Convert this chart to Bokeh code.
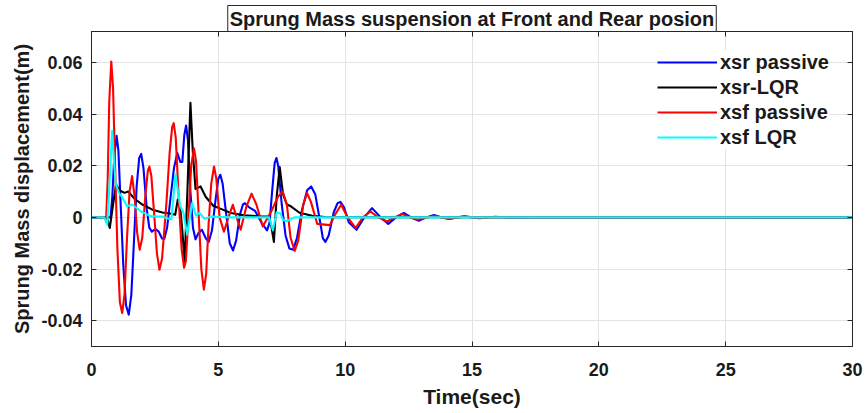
from bokeh.plotting import figure
from bokeh.models import Range1d, FixedTicker, LinearAxis, Legend, LegendItem
from bokeh.embed import file_html
from bokeh.resources import INLINE

# ---- data ----
t_xsr_passive = [0, 0.75, 0.82, 0.9, 0.99, 1.06, 1.15, 1.25, 1.36, 1.47, 1.57, 1.68, 1.78, 1.88, 1.96,
                 2.05, 2.18, 2.28, 2.38, 2.52, 2.65, 2.78, 2.87, 2.98, 3.12, 3.25, 3.38, 3.5, 3.58, 3.66,
                 3.73, 3.8, 3.9, 4.0, 4.1, 4.22, 4.35, 4.5, 4.62, 4.75, 4.88, 5.0, 5.08, 5.17, 5.3, 5.45,
                 5.58, 5.7, 5.85, 5.97, 6.05, 6.2, 6.45, 6.7, 6.92, 7.02, 7.12, 7.22, 7.29, 7.36, 7.5,
                 7.65, 7.8, 7.95, 8.1, 8.3, 8.5, 8.66, 8.82, 9.0, 9.12, 9.22, 9.35, 9.55, 9.7, 9.81,
                 9.95, 10.15, 10.45, 10.75, 11.06, 11.4, 11.7, 12.0, 12.31, 12.6, 12.9, 13.2, 13.5,
                 13.8, 14.1, 14.4, 14.7, 15.0, 15.3, 15.9, 16.5, 17.5, 30]
v_xsr_passive = [0, 0, 0.008, 0.024, 0.0316, 0.026, 0.005, -0.018, -0.034, -0.0377, -0.03, -0.008, 0.012,
                 0.023, 0.0246, 0.019, 0.003, -0.004, -0.0055, -0.0045, -0.0055, -0.0082, -0.0083,
                 -0.004, 0.008, 0.019, 0.025, 0.0215, 0.0215, 0.032, 0.0356, 0.03, 0.01, -0.004,
                 -0.0085, -0.006, -0.0048, -0.008, -0.0095, -0.005, 0.006, 0.015, 0.0165, 0.013, 0.002,
                 -0.01, -0.0128, -0.009, 0.001, 0.005, 0.0055, 0.004, 0.0025, -0.002, -0.005, -0.002,
                 0.01, 0.021, 0.023, 0.02, 0.005, -0.007, -0.012, -0.0125, -0.008, 0.003, 0.0105, 0.012,
                 0.009, -0.001, -0.008, -0.0095, -0.007, 0.002, 0.0055, 0.006, 0.004, -0.002, -0.0048,
                 0.0, 0.0036, 0.0, -0.0025, 0.0, 0.0017, 0.0, -0.0013, 0.0, 0.0009, 0.0, -0.0006, 0.0,
                 0.0004, 0.0, -0.0003, 0.0002, -0.0001, 0, 0]

t_xsr_lqr = [0, 0.6, 0.72, 0.85, 0.97, 1.1, 1.3, 1.45, 1.7, 2.0, 2.4, 2.8, 3.15, 3.3, 3.4, 3.5, 3.58,
             3.67, 3.78, 3.9, 3.99, 4.1, 4.3, 4.5, 4.8, 5.1, 5.5, 6.0, 6.6, 7.0, 7.1, 7.19, 7.3, 7.42,
             7.55, 7.7, 7.86, 8.2, 8.7, 9.2, 30]
v_xsr_lqr = [0, 0, -0.0041, 0.005, 0.0127, 0.0105, 0.0095, 0.01, 0.0072, 0.005, 0.003, 0.0019, 0.0014,
             0.001, 0.0069, 0.0035, -0.005, -0.0171, 0.01, 0.0444, 0.026, 0.011, 0.012, 0.008, 0.0045,
             0.0033, 0.0017, 0.0008, 0.0004, 0.0003, -0.004, -0.0095, 0.008, 0.0195, 0.009, 0.005,
             0.0043, 0.0018, 0.0006, 0.0001, 0]

t_xsf_passive = [0, 0.58, 0.64, 0.7, 0.78, 0.85, 0.93, 1.02, 1.12, 1.21, 1.3, 1.4, 1.5, 1.6, 1.7, 1.8,
                 1.9, 2.0, 2.12, 2.22, 2.28, 2.36, 2.48, 2.58, 2.68, 2.78, 2.95, 3.08, 3.18, 3.24, 3.32,
                 3.45, 3.55, 3.65, 3.72, 3.82, 3.93, 4.04, 4.12, 4.22, 4.33, 4.43, 4.52, 4.62, 4.72,
                 4.83, 4.92, 5.05, 5.22, 5.4, 5.57, 5.72, 5.88, 6.1, 6.31, 6.5, 6.75, 6.95, 7.12, 7.35,
                 7.54, 7.7, 7.85, 8.01, 8.15, 8.35, 8.5, 8.65, 8.9, 9.4, 9.6, 9.84, 10.1, 10.41, 10.7,
                 11.0, 11.3, 11.65, 11.95, 12.25, 12.55, 12.84, 13.5, 14.1, 14.7, 15.3, 16, 30]
v_xsf_passive = [0, 0, 0.015, 0.045, 0.0604, 0.05, 0.02, -0.012, -0.033, -0.037, -0.03, -0.008, 0.01,
                 0.016, 0.008, -0.006, -0.0125, -0.008, 0.008, 0.018, 0.0197, 0.016, 0.0, -0.014,
                 -0.0203, -0.016, 0.005, 0.025, 0.035, 0.0365, 0.031, 0.005, -0.012, -0.0195, -0.017,
                 0.0, 0.02, 0.0268, 0.022, 0.002, -0.02, -0.028, -0.022, -0.002, 0.013, 0.0197, 0.015,
                 0.0, -0.0055, 0.0, 0.0049, 0.0, -0.0048, 0.004, 0.0092, 0.005, -0.0035, 0.0, 0.003,
                 0.008, 0.010, 0.005, -0.008, -0.013, -0.009, 0.005, 0.0094, 0.006, -0.0025, -0.003,
                 0.001, 0.0049, 0.0, -0.0041, 0, 0.0023, 0, -0.0016, 0, 0.0013, 0, -0.0009, 0.0006,
                 -0.0005, 0.0003, -0.0002, 0, 0]

t_xsf_lqr = [0, 0.5, 0.62, 0.72, 0.81, 0.9, 0.95, 1.08, 1.2, 1.4, 1.6, 1.95, 2.35, 2.8, 3.15, 3.31,
             3.5, 3.62, 3.77, 3.97, 4.12, 4.25, 4.45, 4.7, 5.5, 7.0, 7.15, 7.3, 7.45, 7.55, 7.7, 8.0, 30]
v_xsf_lqr = [0, 0, -0.0028, 0.015, 0.0334, 0.02, 0.0133, 0.0094, 0.008, 0.0043, 0.005, 0.0023, 0.0004,
             0.0003, -0.0008, 0.0166, 0.0043, 0.002, -0.0067, 0.0056, 0.0007, 0.0018, -0.0005, 0.0003,
             0.0, 0.0, -0.005, 0.002, 0.0015, -0.001, -0.0015, 0.0, 0]

series_names = ["xsr passive", "xsr-LQR", "xsf passive", "xsf LQR"]
series_colors = ["#0000ff", "#000000", "#ff0000", "#00ffff"]

x_ticks = [0, 5, 10, 15, 20, 25, 30]
y_ticks = [-0.04, -0.02, 0, 0.02, 0.04, 0.06]
y_tick_labels = ["-0.04", "-0.02", "0", "0.02", "0.04", "0.06"]

title_text = "Sprung Mass suspension at Front and Rear posion"
x_label = "Time(sec)"
y_label = "Sprung Mass displacement(m)"

# ---- figure ----
FONT = "'Liberation Sans', Arial, sans-serif"
AX = "#262626"

p = figure(width=867, height=413, output_backend="svg", toolbar_location=None,
           x_range=Range1d(0, 30), y_range=Range1d(-0.05, 0.072),
           min_border_left=91, min_border_right=15, min_border_top=31, min_border_bottom=67,
           background_fill_color="white", border_fill_color="white")

p.title.text = title_text
p.title.align = "center"
p.title.text_font = FONT
p.title.text_font_size = "20px"
p.title.text_font_style = "bold"
p.title.text_color = "#1a1a1a"
p.title.standoff = 0
p.title.border_line_color = AX
p.title.background_fill_color = "white"
p.title.padding = 2

p.outline_line_color = AX
p.outline_line_width = 1

for ax in (p.xaxis[0], p.yaxis[0]):
    ax.axis_line_color = AX
    ax.major_tick_line_color = AX
    ax.major_tick_in = 5
    ax.major_tick_out = 0
    ax.minor_tick_line_color = None
    ax.major_label_text_font = FONT
    ax.major_label_text_font_style = "bold"
    ax.major_label_text_font_size = "18px"
    ax.major_label_text_color = "#1a1a1a"
    ax.axis_label_text_font = FONT
    ax.axis_label_text_font_style = "bold"
    ax.axis_label_text_color = "#1a1a1a"

p.xaxis.ticker = FixedTicker(ticks=x_ticks)
p.yaxis.ticker = FixedTicker(ticks=y_ticks)
p.yaxis.major_label_overrides = {v: s for v, s in zip(y_ticks, y_tick_labels)}
p.xaxis.axis_label = x_label
p.yaxis.axis_label = y_label
p.xaxis.axis_label_text_font_size = "21px"
p.yaxis.axis_label_text_font_size = "20px"
p.xaxis.major_label_standoff = 16
p.xaxis.axis_label_standoff = 6
p.yaxis.major_label_standoff = 9
p.yaxis.axis_label_standoff = 5

# box ticks on top and right (no labels)
for side, tk in (("above", x_ticks), ("right", y_ticks)):
    a = LinearAxis(ticker=FixedTicker(ticks=tk), major_label_text_font_size="0px",
                   major_label_text_color=None, major_label_standoff=0,
                   major_tick_in=5, major_tick_out=0,
                   minor_tick_line_color=None, axis_line_color=AX, major_tick_line_color=AX)
    p.add_layout(a, side)

p.xgrid.ticker = FixedTicker(ticks=x_ticks)
p.ygrid.ticker = FixedTicker(ticks=y_ticks)
p.grid.grid_line_color = "#e3e3e3"
p.grid.grid_line_width = 1

data = [(t_xsr_passive, v_xsr_passive), (t_xsr_lqr, v_xsr_lqr),
        (t_xsf_passive, v_xsf_passive), (t_xsf_lqr, v_xsf_lqr)]
items = []
for (t, v), name, col in zip(data, series_names, series_colors):
    r = p.line(t, v, line_color=col, line_width=2.1, line_join="round")
    items.append(LegendItem(label=name, renderers=[r]))

legend = Legend(items=items, location=(566, 197), glyph_width=60, glyph_height=24,
                label_height=24, spacing=1, label_standoff=3, padding=7, margin=0,
                border_line_color=None, background_fill_color="white", background_fill_alpha=1,
                label_text_font=FONT, label_text_font_style="bold", label_text_font_size="20px",
                label_text_color="#1a1a1a")
p.add_layout(legend, "center")

open("out.html", "w").write(file_html(p, INLINE))
